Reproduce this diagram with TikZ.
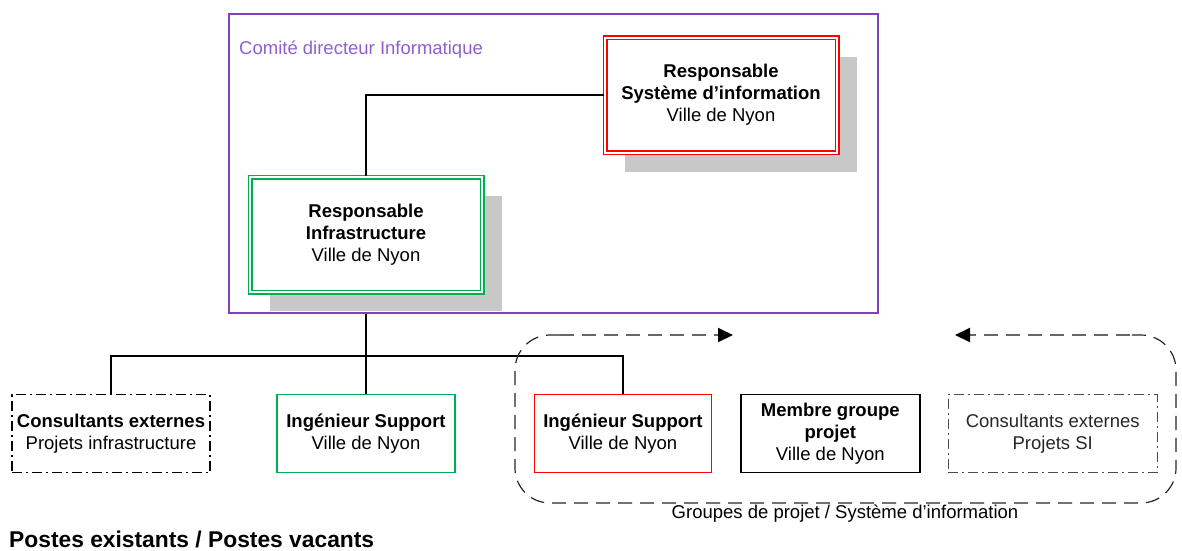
\documentclass[tikz,border=0pt]{standalone}
\usepackage{fontspec}
\setmainfont{Liberation Sans}
\usetikzlibrary{arrows.meta,positioning,shadows}
\usepackage{xcolor}

\definecolor{cdipurple}{RGB}{128,64,192}
\definecolor{cdilabel}{RGB}{145,95,205}
\definecolor{infgreen}{RGB}{0,176,80}
\definecolor{sired}{RGB}{255,0,0}
\definecolor{shadowgray}{RGB}{200,200,200}

\tikzset{
	poste/.style={draw,line width=1.4pt,minimum height=78pt,inner sep=2pt,align=center,fill=white},
	ext/.style={poste,dash pattern=on 10pt off 4pt on 2pt off 4pt},
	resp/.style={draw,line width=1.5pt,double=white,double distance=2pt,minimum width=232pt,minimum height=115pt,align=center,fill=white,
		drop shadow={shadow xshift=20pt,shadow yshift=-19pt,fill=shadowgray,opacity=1}},
	lien/.style={line width=1.4pt},
	grpline/.style={black!85,line width=1.2pt,dash pattern=on 14pt off 8pt},
	grparrow/.style={black!60,line width=2pt,dash pattern=on 14pt off 8pt,-{Triangle[length=15pt,width=14pt,black]}}
}

\begin{document}
\begin{tikzpicture}[x=1pt,y=-1pt,font=\fontsize{18.5}{22}\selectfont]
	\useasboundingbox (0,0) rectangle (1182,550);

	% comite directeur
	\node[draw=cdipurple,line width=1.4pt,minimum width=649pt,minimum height=299pt] (cdi) at (553.5,163.5) {};
	\node[anchor=base west,text=cdilabel,inner sep=0pt] (cdilbl) at (239,54) {Comité directeur Informatique};

	\node[resp,draw=sired] (ressi) at (721,95) {\textbf{Responsable}\\\textbf{Système d'information}\\Ville de Nyon};
	\node[resp,draw=infgreen] (resinf) at (366,234.5) {\textbf{Responsable}\\\textbf{Infrastructure}\\Ville de Nyon};

	% postes
	\node[ext,minimum width=198pt] (ceinf) at (111,433.5) {\textbf{Consultants externes}\\Projets infrastructure};
	\node[poste,draw=infgreen,minimum width=178pt] (inginf) at (366,433.5) {\textbf{Ingénieur Support}\\Ville de Nyon};
	\node[poste,draw=sired,minimum width=177pt,right=78pt of inginf] (ingsi) {\textbf{Ingénieur Support}\\Ville de Nyon};
	\node[poste,minimum width=179pt,right=28pt of ingsi] (membre) {\textbf{Membre groupe}\\\textbf{projet}\\Ville de Nyon};
	\node[ext,draw=black!70,text=black!85,minimum width=209pt,right=27pt of membre] (cesi) {Consultants externes\\Projets SI};

	% liens
	\coordinate (bus) at (366,356);
	\draw[lien] (ressi.west) -| (resinf.north);
	\draw[lien] (cdi.south -| resinf) -- (bus);
	\draw[lien] (ceinf.north) |- (bus) -| (ingsi.north);
	\draw[lien] (bus) -- (inginf.north);

	% groupes de projet
	\draw[grpline,rounded corners=35pt] (560,335) -- (515,335) -- (515,503) -- (1176,503) -- (1176,335) -- (1130,335);
	\draw[grparrow] (560,335) -- (733,335);
	\draw[grparrow] (1130,335) -- (955,335);
	\node[inner sep=0pt] (grplbl) at (845,514) {Groupes de projet / Système d'information};

	\node[anchor=base west,inner sep=0pt,font=\fontsize{22.8}{27}\selectfont\bfseries] (legende) at (9,547) {Postes existants / Postes vacants};
\end{tikzpicture}
\end{document}
